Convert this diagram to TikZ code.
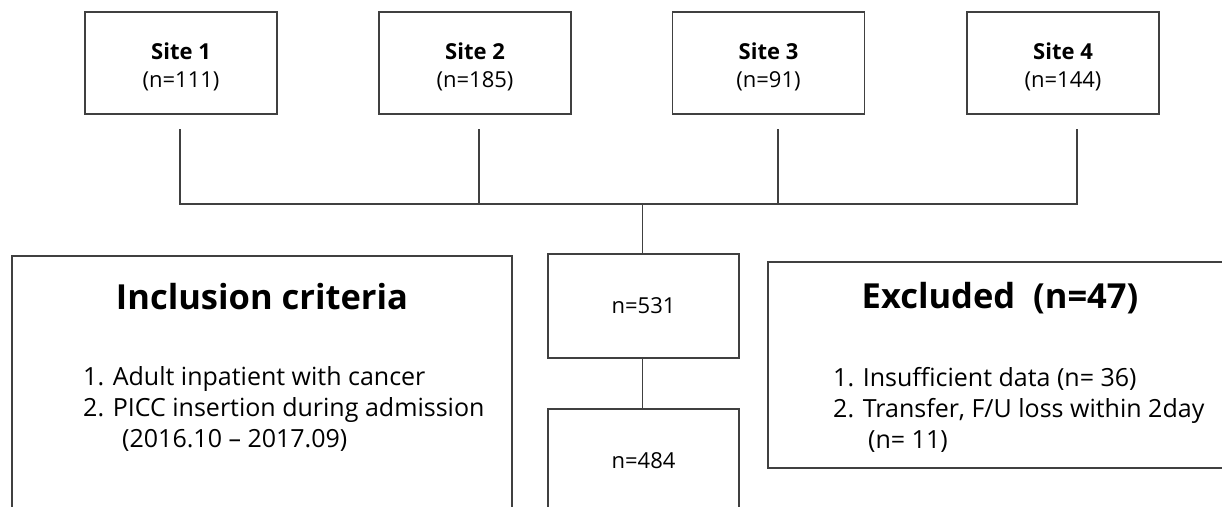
\documentclass[tikz,border=0pt]{standalone}
\usepackage{fontspec}
\setmainfont{Open Sans}
\begin{document}
\begin{tikzpicture}[x=1pt,y=-1pt,
  box/.style={draw=black!75,line width=1.1pt,rectangle,inner sep=0pt},
  sitebox/.style={box,minimum width=192pt,minimum height=102pt},
  sitetext/.style={align=center,inner sep=0pt,font=\fontsize{22}{28}\selectfont},
  nbox/.style={box,minimum width=191pt,minimum height=104pt,font=\fontsize{22}{28}\selectfont},
  conn/.style={draw=black!75,line width=1.1pt},
  title/.style={font=\fontsize{34.5}{40}\selectfont\bfseries,inner sep=0pt},
  list/.style={font=\fontsize{25}{31}\selectfont,align=left,inner sep=0pt,anchor=base west}
]
\useasboundingbox (0,0) rectangle (1222,506);
\fill[white] (0,0) rectangle (1222,506);
\clip (0,0) rectangle (1222,506);

\node[sitebox] (s1) at (181,63) {};
\node[sitebox] (s2) at (475,63) {};
\node[sitebox] (s3) at (768.5,63) {};
\node[sitebox] (s4) at (1063,63) {};
\node[sitetext] (s1t) at (181,67) {\textbf{Site 1}\\(n=111)};
\node[sitetext] (s2t) at (475,67) {\textbf{Site 2}\\(n=185)};
\node[sitetext] (s3t) at (768.5,67) {\textbf{Site 3}\\(n=91)};
\node[sitetext] (s4t) at (1063,67) {\textbf{Site 4}\\(n=144)};

\coordinate (b1) at (180,129);
\coordinate (b2) at (479,129);
\coordinate (b3) at (778,129);
\coordinate (b4) at (1077,129);
\coordinate (h1) at (180,204);
\coordinate (h2) at (479,204);
\coordinate (h3) at (778,204);
\coordinate (h4) at (1077,204);
\coordinate (j) at (642.5,204);

\draw[conn] (b1) -- (h1) -- (h4) -- (b4);
\draw[conn] (b2) -- (h2);
\draw[conn] (b3) -- (h3);

\node[nbox] (n531) at (643.5,306) {n=531};
\node[nbox] (n484) at (643.5,461) {n=484};
\draw[conn] (j) -- (n531.north -| j);
\draw[conn] (n531.south -| j) -- (n484.north -| j);

\node[box,minimum width=500pt,minimum height=304pt] (inc) at (262,408) {};
\node[title] (inct) at (262,297) {Inclusion criteria};
\node[list] (incl) at (83,447) {1. Adult inpatient with cancer\\2. PICC insertion during admission\\\hspace*{39pt}(2016.10 -- 2017.09)};

\node[box,minimum width=464pt,minimum height=206pt] (exc) at (1000,365) {};
\node[title] (exct) at (1000,298) {Excluded~ (n=47)};
\node[list] (excl) at (833,448) {1. Insufficient data (n= 36)\\2. Transfer, F/U loss within 2day\\\hspace*{35pt}(n= 11)};
\end{tikzpicture}
\end{document}
